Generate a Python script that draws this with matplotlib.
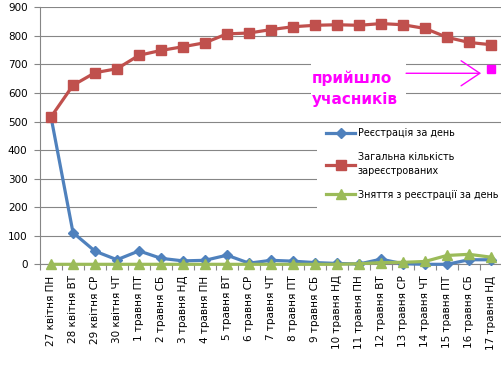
import matplotlib.pyplot as plt
import matplotlib.patches as mpatches
import numpy as np

# Дані
days = ['27 квітня ПН', '28 квітня ВТ', '29 квітня СР', '30 квітня ЧТ',
        '1 травня ПТ', '2 травня СБ', '3 травня НД', '4 травня ПН',
        '5 травня ВТ', '6 травня СР', '7 травня ЧТ', '8 травня ПТ',
        '9 травня СБ', '10 травня НД', '11 травня ПН', '12 травня ВТ',
        '13 травня СР', '14 травня ЧТ', '15 травня ПТ', '16 травня СБ',
        '17 травня НД']
reg_per_day = [516, 111, 46, 16, 47, 21, 12, 14, 32, 4, 14, 11, 6, 3, 1, 18, 2, 0, 0, 16, 16]
total_reg = [516, 627, 671, 685, 732, 749, 762, 776, 807, 810, 822, 832, 837, 839,
             837, 843, 839, 826, 795, 777, 769]
unreg_per_day = [0, 0, 0, 0, 0, 0, 0, 0, 0, 0, 0, 0, 0, 0, 2, 6, 7, 10, 31, 35, 25]
came = 685

labels = ['Реєстрація за день', 'Загальна кількість\nзареєстрованих',
          'Зняття з реєстрації за день']

plt.rcParams['font.family'] = 'DejaVu Sans'
grey = '#868686'
pink = '#FF00FF'

fig = plt.figure(figsize=(5.02, 3.79), dpi=100)
ax = fig.add_axes([0.0797, 0.3026, 0.9203, 0.6781])
x = np.arange(len(days))

ax.plot(x, reg_per_day, color='#4F81BD', lw=2.3, marker='D', ms=5, label=labels[0], clip_on=False, zorder=3)
ax.plot(x, total_reg, color='#C0504D', lw=2.3, marker='s', ms=7.5, label=labels[1], clip_on=False, zorder=3)
ax.plot(x, unreg_per_day, color='#9BBB59', lw=2.3, marker='^', ms=7, label=labels[2], clip_on=False, zorder=4)

# кількість учасників, що прийшли
ax.plot([x[-1]], [came], ls='none', marker='s', ms=6, color=pink, zorder=5)
ax.add_patch(mpatches.Rectangle((11.82, 558), 4.32, 175, facecolor='white', edgecolor='none', zorder=1.5))
ax.text(11.85, 615, 'прийшло\nучасників', color=pink, fontsize=11, fontweight='bold',
        va='center', ha='left', linespacing=1.5, zorder=3)
ax.annotate('', xy=(19.55, 669), xytext=(16.14, 669),
            arrowprops=dict(arrowstyle='->,head_length=1.35,head_width=0.9', color=pink,
                            lw=1, mutation_scale=10, shrinkA=0, shrinkB=0))

# біле тло під легендою
ax.add_patch(mpatches.Rectangle((12.09, 185), 8.5, 305, facecolor='white', edgecolor='none', zorder=1.5))

ax.set_xlim(-0.5, len(days) - 0.5)
ax.set_ylim(0, 900)
ax.set_yticks(np.arange(0, 901, 100))
ax.set_xticks(x)
ax.set_xticklabels(days, rotation=90, fontsize=7.5)
ax.set_xticks(np.arange(-0.5, len(days), 1), minor=True)
ax.tick_params(axis='x', which='major', length=0, pad=8)
ax.tick_params(axis='x', which='minor', length=4, color=grey, width=0.8)
ax.tick_params(axis='y', length=4, color=grey, width=0.8, labelsize=7.5, pad=5)

ax.set_axisbelow(True)
ax.grid(axis='y', color=grey, lw=0.8)
for s in ['top', 'right']:
    ax.spines[s].set_visible(False)
for s in ['left', 'bottom']:
    ax.spines[s].set_color(grey)
    ax.spines[s].set_linewidth(0.8)

leg = ax.legend(loc='upper left', bbox_to_anchor=(0.605, 0.555), fontsize=6.9, frameon=False,
                handlelength=3.0, handletextpad=0.3, labelspacing=1.45, borderpad=0.7,
                borderaxespad=0)
leg.get_texts()[1].set_linespacing(1.45)
leg.set_zorder(6)

fig.savefig('out.png', dpi=100)
